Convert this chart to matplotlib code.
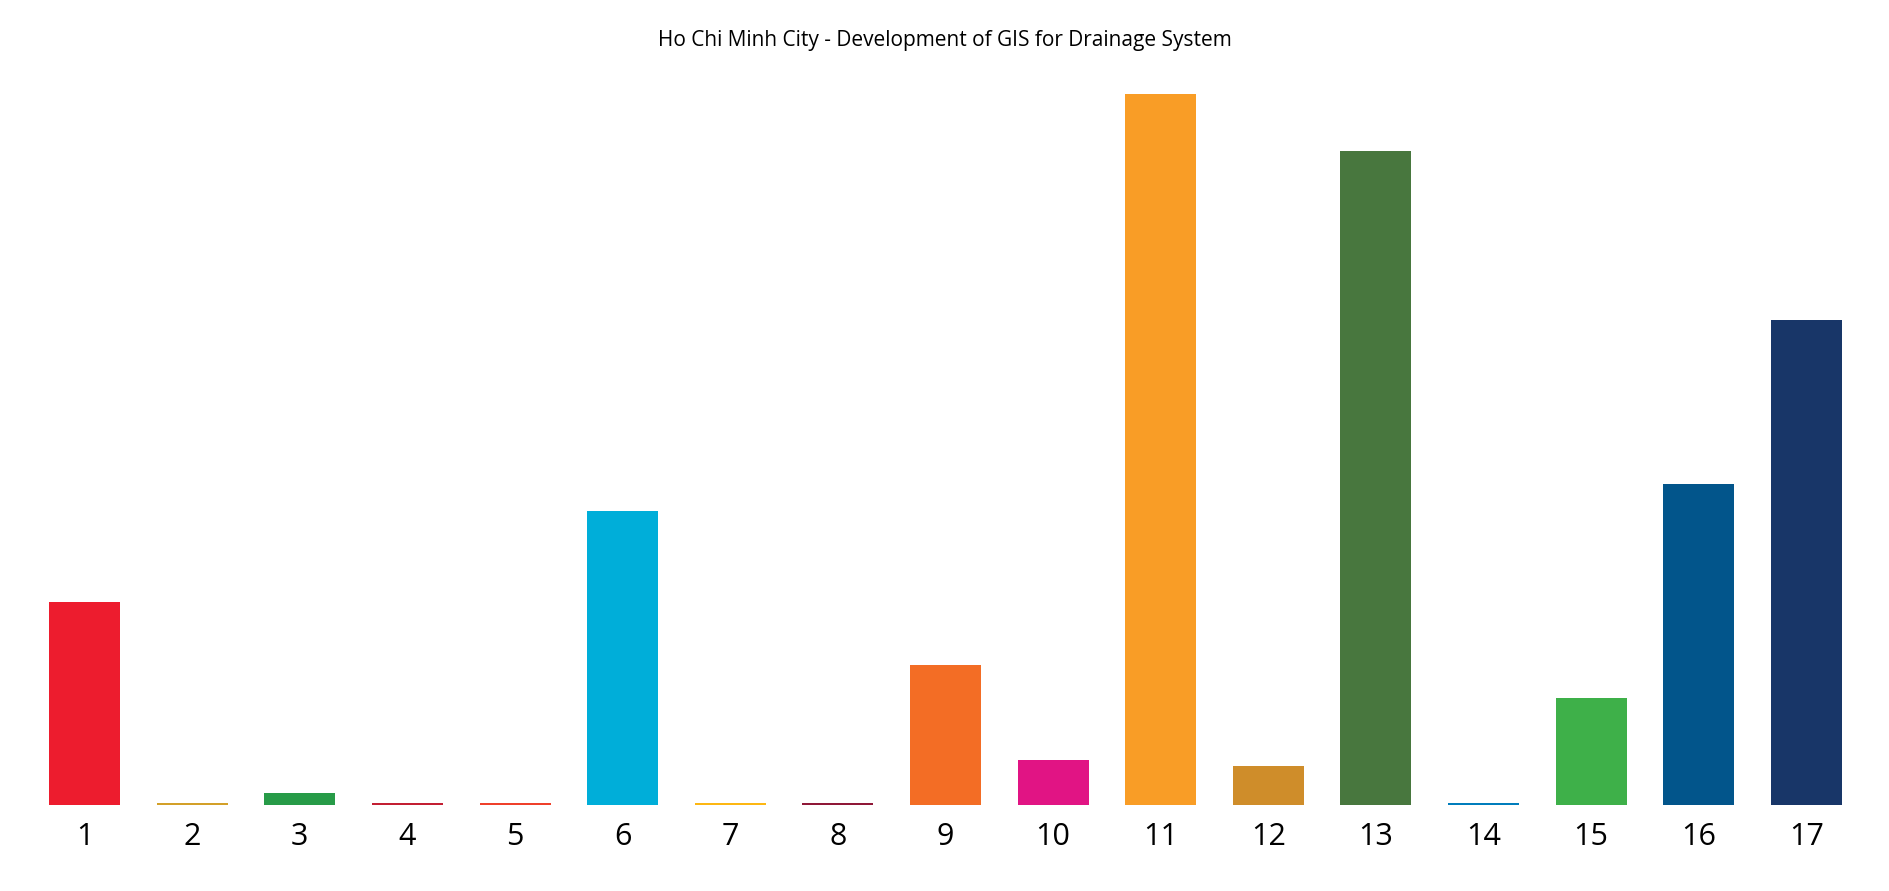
import matplotlib; matplotlib.use("Agg"); import matplotlib.pyplot as plt

goals=list(range(1,18))
values=[28.6,0.3,1.7,0.3,0.3,41.3,0.3,0.3,19.8,6.4,100,5.6,92.0,0.3,15.1,45.2,68.2]
colors=["#ED1C2E","#D3A029","#279B48","#C31F33","#EF402B","#00AED9","#FDB713","#8F1838","#F36D25","#E11484",
        "#F99D26","#CF8D2A","#48773E","#007DBC","#3EB049","#02558B","#183668"]

fig=plt.figure(figsize=(18.89,8.91),dpi=100)
ax=fig.add_axes([0.026,0.096,0.949,0.799])
ax.bar(goals,values,width=0.66,color=colors)
ax.set_xlim(1-0.33,17+0.33); ax.set_ylim(0,100)
ax.set_xticks(goals); ax.set_xticklabels([str(g) for g in goals],fontsize=22,family="Open Sans")
ax.tick_params(axis="x",length=0,pad=12); ax.set_yticks([])
for s in ax.spines.values(): s.set_visible(False)
fig.text(0.5,0.955,"Ho Chi Minh City - Development of GIS for Drainage System",ha="center",va="center",fontsize=15,family="Open Sans")
fig.savefig("out.png",dpi=100,facecolor="white")
